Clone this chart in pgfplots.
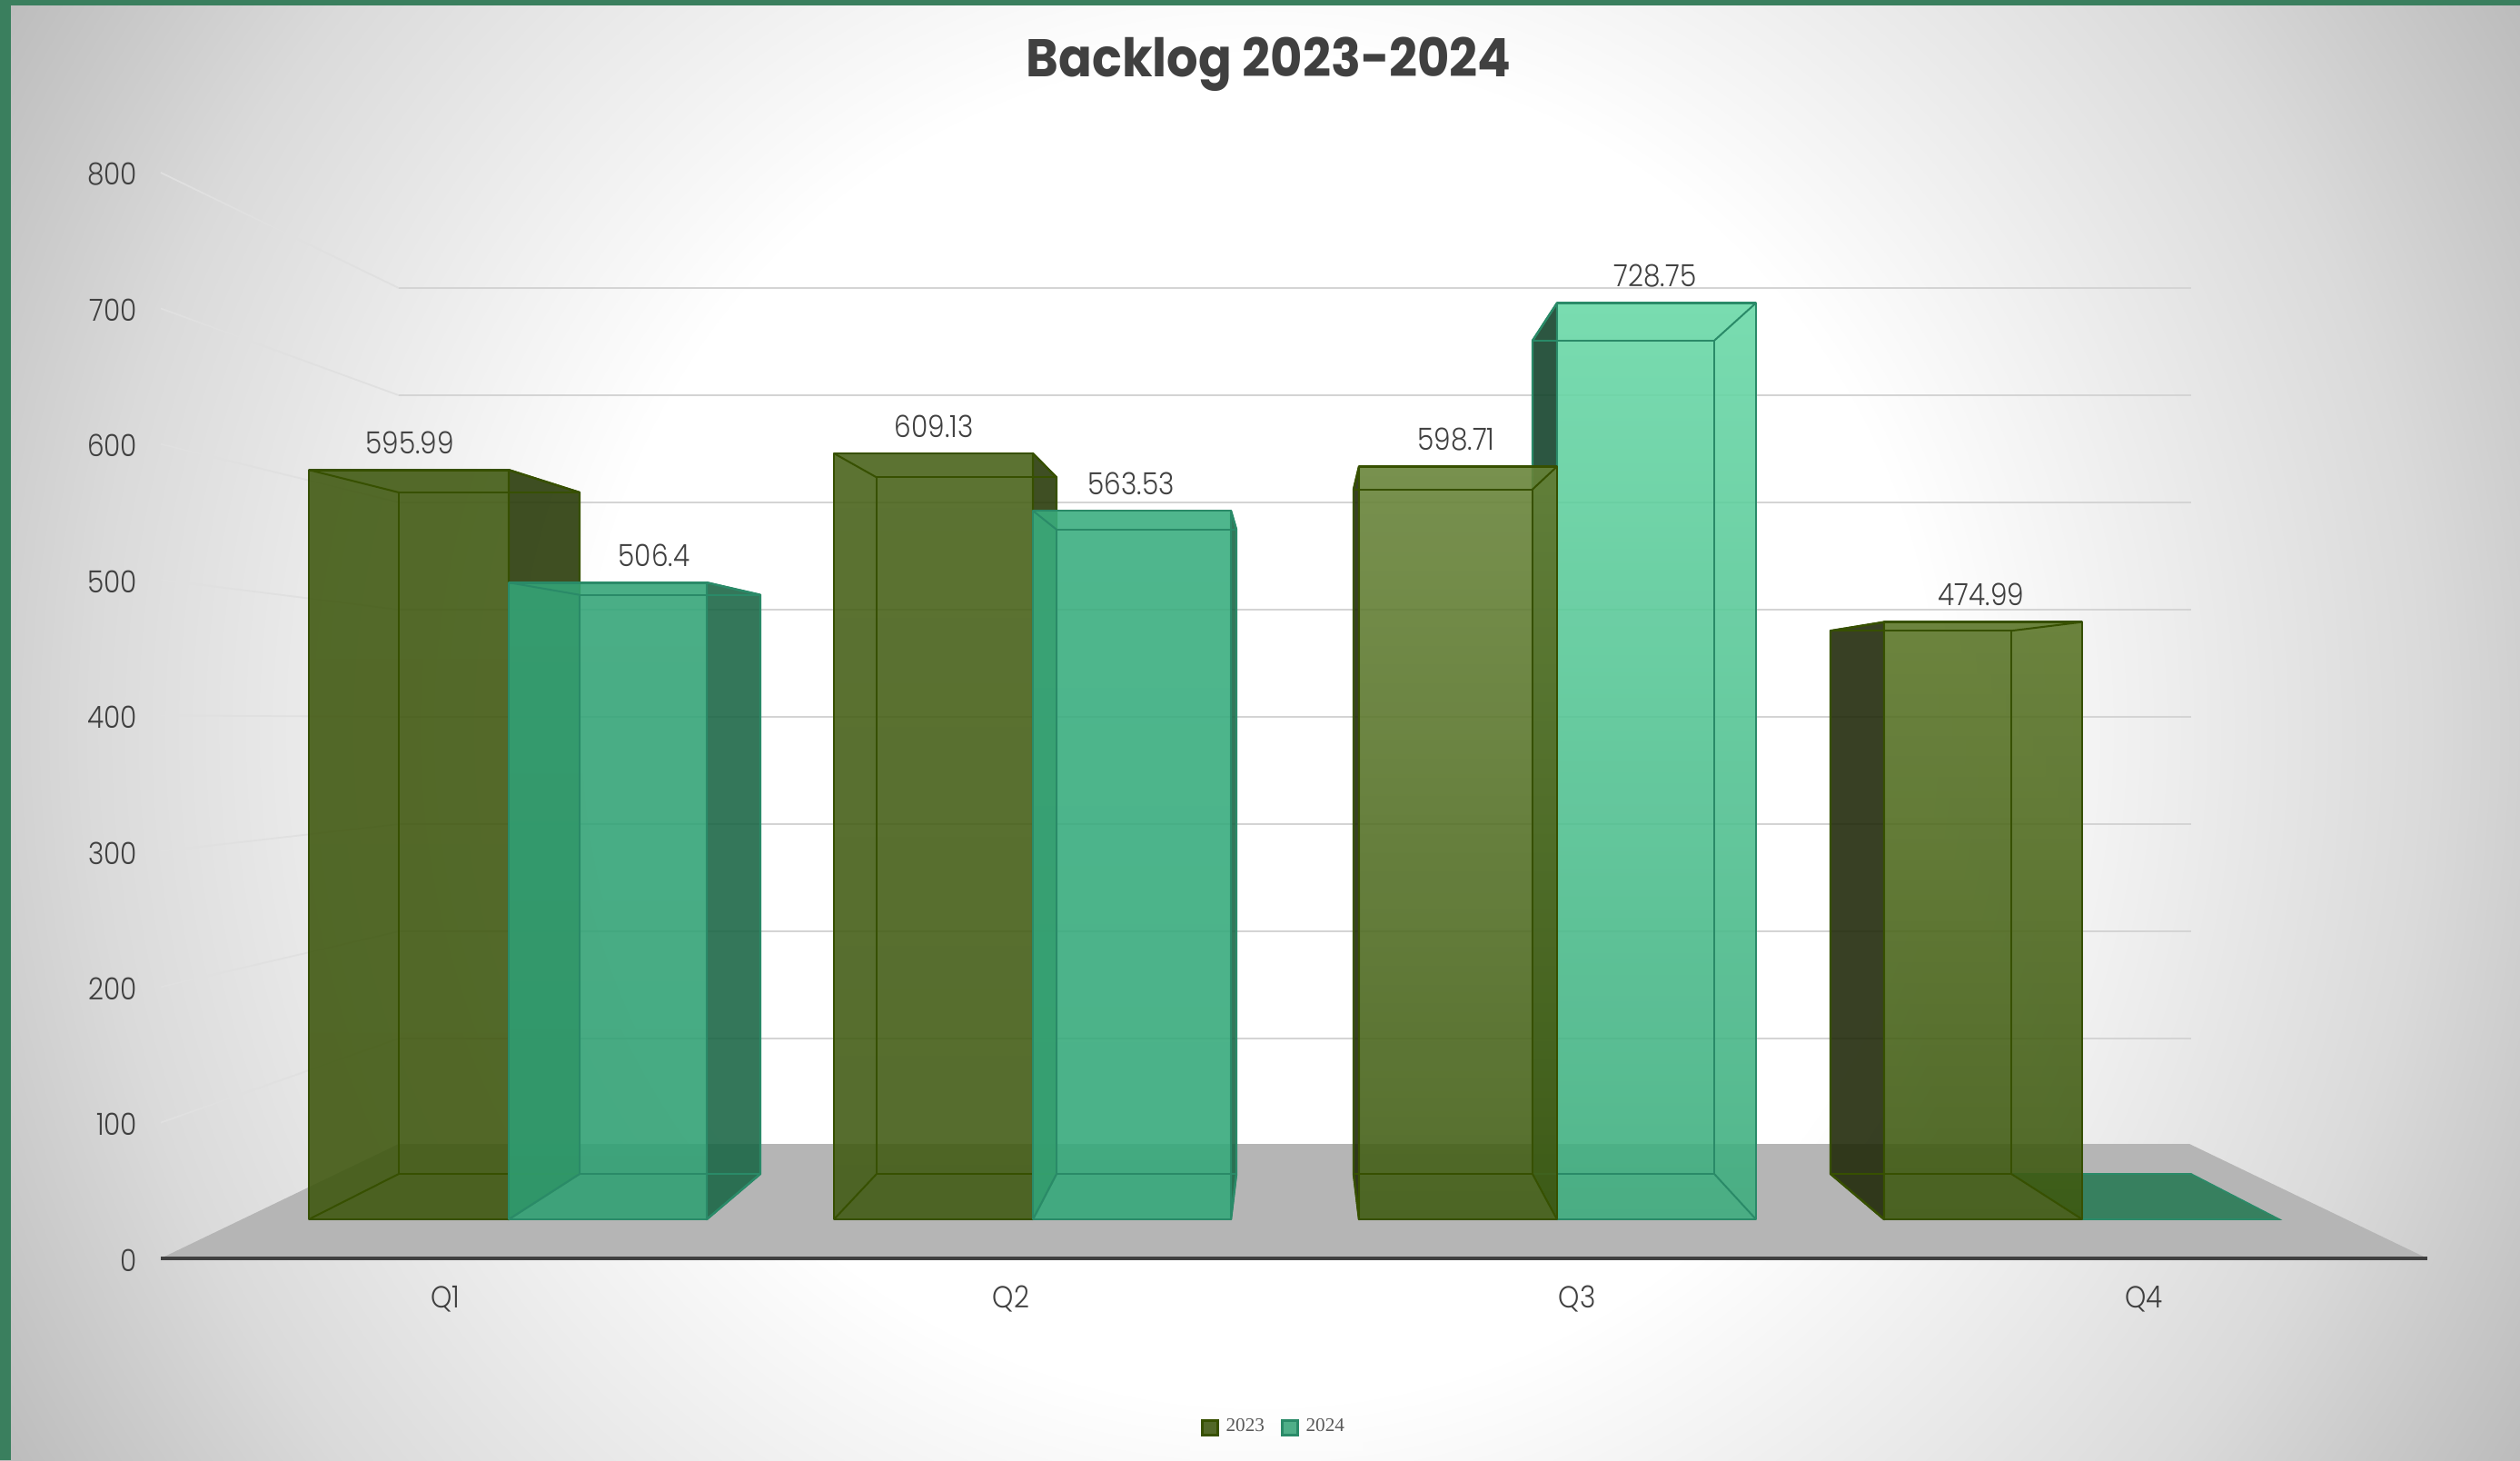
\documentclass[border=0pt]{standalone}
\usepackage{fontspec}
\usepackage{pgfplots}
\pgfplotsset{compat=1.18}
\setmainfont{Poppins}[UprightFont={* Light},BoldFont={* Bold},FakeStretch=0.88]
\newfontfamily\titlefont{Poppins}[UprightFont={* Bold},FakeStretch=0.93]
\newfontfamily\legfont{Liberation Serif}
\definecolor{frame}{RGB}{58,127,94}
\definecolor{bgout}{RGB}{187,187,187}
\definecolor{bgmid}{RGB}{218,218,218}
\definecolor{txt}{RGB}{64,64,64}
\definecolor{floorc}{RGB}{181,181,181}
\definecolor{gridc}{RGB}{212,212,212}
\definecolor{wallc}{RGB}{224,224,224}
\definecolor{oedge}{RGB}{55,80,0}
\definecolor{gedge}{RGB}{42,138,104}
\definecolor{oside}{RGB}{40,58,8}
\definecolor{oside2}{RGB}{32,41,9}
\definecolor{gside}{RGB}{27,103,70}
\definecolor{gside2}{RGB}{18,66,42}
\definecolor{gflat}{RGB}{55,128,95}
\definecolor{o1t}{RGB}{64,89,17}\definecolor{o1b}{RGB}{63,87,15}
\definecolor{o2t}{RGB}{72,98,25}\definecolor{o2b}{RGB}{65,91,20}
\definecolor{o3t}{RGB}{104,132,57}\definecolor{o3b}{RGB}{64,92,19}
\definecolor{o4t}{RGB}{90,117,39}\definecolor{o4b}{RGB}{61,88,16}
\definecolor{g1t}{RGB}{52,165,120}\definecolor{g1b}{RGB}{48,160,115}
\definecolor{g2t}{RGB}{58,174,127}\definecolor{g2b}{RGB}{52,168,122}
\definecolor{g3t}{RGB}{105,216,167}\definecolor{g3b}{RGB}{61,173,126}
\definecolor{legO}{RGB}{82,104,40}
\definecolor{legG}{RGB}{79,174,136}
\pgfdeclareradialshading{bgshade}{\pgfpoint{0bp}{0bp}}{color(0bp)=(white);color(11.5bp)=(white);color(20bp)=(bgmid);color(25bp)=(bgout);color(50bp)=(bgout)}
% #1 outer left #2 outer right #3 inner left #4 inner right #5 value
% #6 side colour #7 top colour #8 bottom colour #9 edge colour
\newcommand{\rightbox}[9]{%
  \pgfmathsetmacro{\yb}{36.13+0.9093*#5}%
  \addplot[forget plot,draw=#9,line width=.6pt,line join=round,fill=#6,fill opacity=\faceop] coordinates {(#2,0) (#4,36.13) (#4,\yb) (#2,#5)} --cycle;
  \boxfront{#1}{#2}{#3}{#4}{#5}{#7}{#8}{#9}}
\newcommand{\leftbox}[9]{%
  \pgfmathsetmacro{\yb}{36.13+0.9093*#5}%
  \addplot[forget plot,draw=#9,line width=.6pt,line join=round,fill=#6,fill opacity=\faceop] coordinates {(#1,0) (#3,36.13) (#3,\yb) (#1,#5)} --cycle;
  \boxfront{#1}{#2}{#3}{#4}{#5}{#7}{#8}{#9}}
\newcommand{\boxfront}[8]{%
  \addplot[forget plot,draw=#8,line width=.7pt,line join=round,top color=#6,bottom color=#7,fill opacity=\faceop] coordinates {(#1,0) (#2,0) (#2,#5) (#1,#5)} --cycle;
  \addplot[forget plot,draw=#8,line width=.5pt,line join=round] coordinates {(#3,36.13) (#4,36.13) (#4,\yb) (#3,\yb)} --cycle;
  \addplot[forget plot,draw=#8,line width=.5pt] coordinates {(#1,0) (#3,36.13)};
  \addplot[forget plot,draw=#8,line width=.5pt] coordinates {(#2,0) (#4,36.13)};
  \addplot[forget plot,draw=#8,line width=.5pt] coordinates {(#1,#5) (#3,\yb)};
  \addplot[forget plot,draw=#8,line width=.5pt] coordinates {(#2,#5) (#4,\yb)};
}
\begin{document}
\begin{tikzpicture}[x=1pt,y=1pt]
\useasboundingbox (0,0) rectangle (693.5,401.75);
\begin{scope}
\clip (0,0) rectangle (693.5,401.75);
\shade[shading=bgshade] (346.75,200.875) circle (402);
\end{scope}
\fill[frame] (0,0) rectangle (2.9,401.75);
\fill[frame] (0,400.25) rectangle (693.5,401.75);
\begin{axis}[
  at={(0,0)},anchor=south west,
  scale only axis,width=693.5pt,height=401.75pt,
  xmin=0,xmax=2774,ymin=-191.47,ymax=969.65,
  clip=false,
  axis line style={draw=none},
  tick style={draw=none},
  ytick={-28.9,79.0,186.9,294.9,402.8,510.7,618.7,726.6,834.5},
  yticklabels={0,100,200,300,400,500,600,700,800},
  xtick={490,1113,1736,2360},
  xticklabels={Q1,Q2,Q3,Q4},
  tick label style={font=\fontsize{8.4}{10}\selectfont,text=txt},
  yticklabel style={anchor=east,xshift=41.3pt,yshift=-1.25pt},
  xticklabel style={anchor=center,yshift=44.35pt},
  every axis title shift=0pt,
  title={\titlefont Backlog 2023-2024},
  title style={at={(rel axis cs:0.5035,0.9595)},anchor=center,yshift=-1.5pt,font=\fontsize{14.6}{17}\selectfont,text=txt},
  legend style={at={(rel axis cs:0.5065,0.0223)},anchor=center,draw=none,fill=white,fill opacity=.25,text opacity=1,
    font=\legfont\fontsize{5.3}{6}\selectfont,text=black!65,legend columns=2,
    inner xsep=3pt,inner ysep=2pt,
    /tikz/every even column/.append style={column sep=2.5pt}},
  legend cell align=left,
  legend image code/.code={\draw[#1,fill opacity=1,draw opacity=1] (0pt,-2pt) rectangle (4.2pt,2pt);},
]
\addlegendimage{draw=oedge,fill=legO,line width=.7pt}
\addlegendimage{draw=gedge,fill=legG,line width=.7pt}
\legend{2023,2024}
% floor
\addplot[forget plot,draw=none,fill=floorc] coordinates {(177,-31.07) (2672,-31.07) (2410,59.97) (439,59.97)} --cycle;
% back wall grid
\pgfplotsinvokeforeach{740.6,655.3,570.1,484.8,399.6,314.3,229.0,143.8}{
  \addplot[forget plot,draw=gridc,line width=.55pt] coordinates {(439,#1) (2412,#1)};
}
% side wall grid
\addplot[forget plot,draw=wallc,line width=.45pt] coordinates {(177,832.4) (439,740.6)};
\addplot[forget plot,draw=wallc,line width=.45pt] coordinates {(177,724.4) (439,655.3)};
\addplot[forget plot,draw=wallc,line width=.45pt] coordinates {(177,616.5) (439,570.1)};
\addplot[forget plot,draw=wallc,line width=.45pt] coordinates {(177,508.6) (439,484.8)};
\addplot[forget plot,draw=wallc,line width=.45pt] coordinates {(177,400.7) (439,399.6)};
\addplot[forget plot,draw=wallc,line width=.45pt] coordinates {(177,292.7) (439,314.3)};
\addplot[forget plot,draw=wallc,line width=.45pt] coordinates {(177,184.8) (439,229.0)};
\addplot[forget plot,draw=wallc,line width=.45pt] coordinates {(177,76.9) (439,143.8)};
% axis line
\addplot[forget plot,draw=txt,line width=.85pt] coordinates {(177,-31.07) (2672,-31.07)};
% Q1
\def\faceop{.89}
\rightbox{340}{560}{439}{638}{595.99}{oside}{o1t}{o1b}{oedge}
\def\faceop{.85}
\rightbox{560}{778}{638}{837}{506.4}{gside}{g1t}{g1b}{gedge}
% Q2
\def\faceop{.89}
\rightbox{918}{1137}{965}{1163}{609.13}{oside}{o2t}{o2b}{oedge}
\def\faceop{.85}
\rightbox{1137}{1355}{1163}{1361}{563.53}{gside}{g2t}{g2b}{gedge}
% Q3
\def\faceop{.85}
\leftbox{1714}{1933}{1687}{1887}{728.75}{gside2}{g3t}{g3b}{gedge}
\def\faceop{.89}
\leftbox{1496}{1714}{1490}{1687}{598.71}{oside2}{o3t}{o3b}{oedge}
% Q4: 2024 is zero, only the floor of the bar
\addplot[forget plot,draw=gedge,line width=.4pt,fill=gflat] coordinates {(2292,0) (2509,0) (2412,36.13) (2214,36.13)} --cycle;
\def\faceop{.89}
\leftbox{2074}{2292}{2015}{2214}{474.99}{oside2}{o4t}{o4b}{oedge}
% data labels
\addplot[forget plot,draw=none,mark=none,point meta=explicit symbolic,
  nodes near coords,
  every node near coord/.style={anchor=center,yshift=7.5pt,font=\fontsize{8.4}{10}\selectfont,text=txt}]
  coordinates {(451,595.99)[595.99] (720,506.4)[506.4] (1028,609.13)[609.13] (1245,563.53)[563.53]
               (1603,598.71)[598.71] (1822,728.75)[728.75] (2181,474.99)[474.99]};
\end{axis}
\end{tikzpicture}
\end{document}
